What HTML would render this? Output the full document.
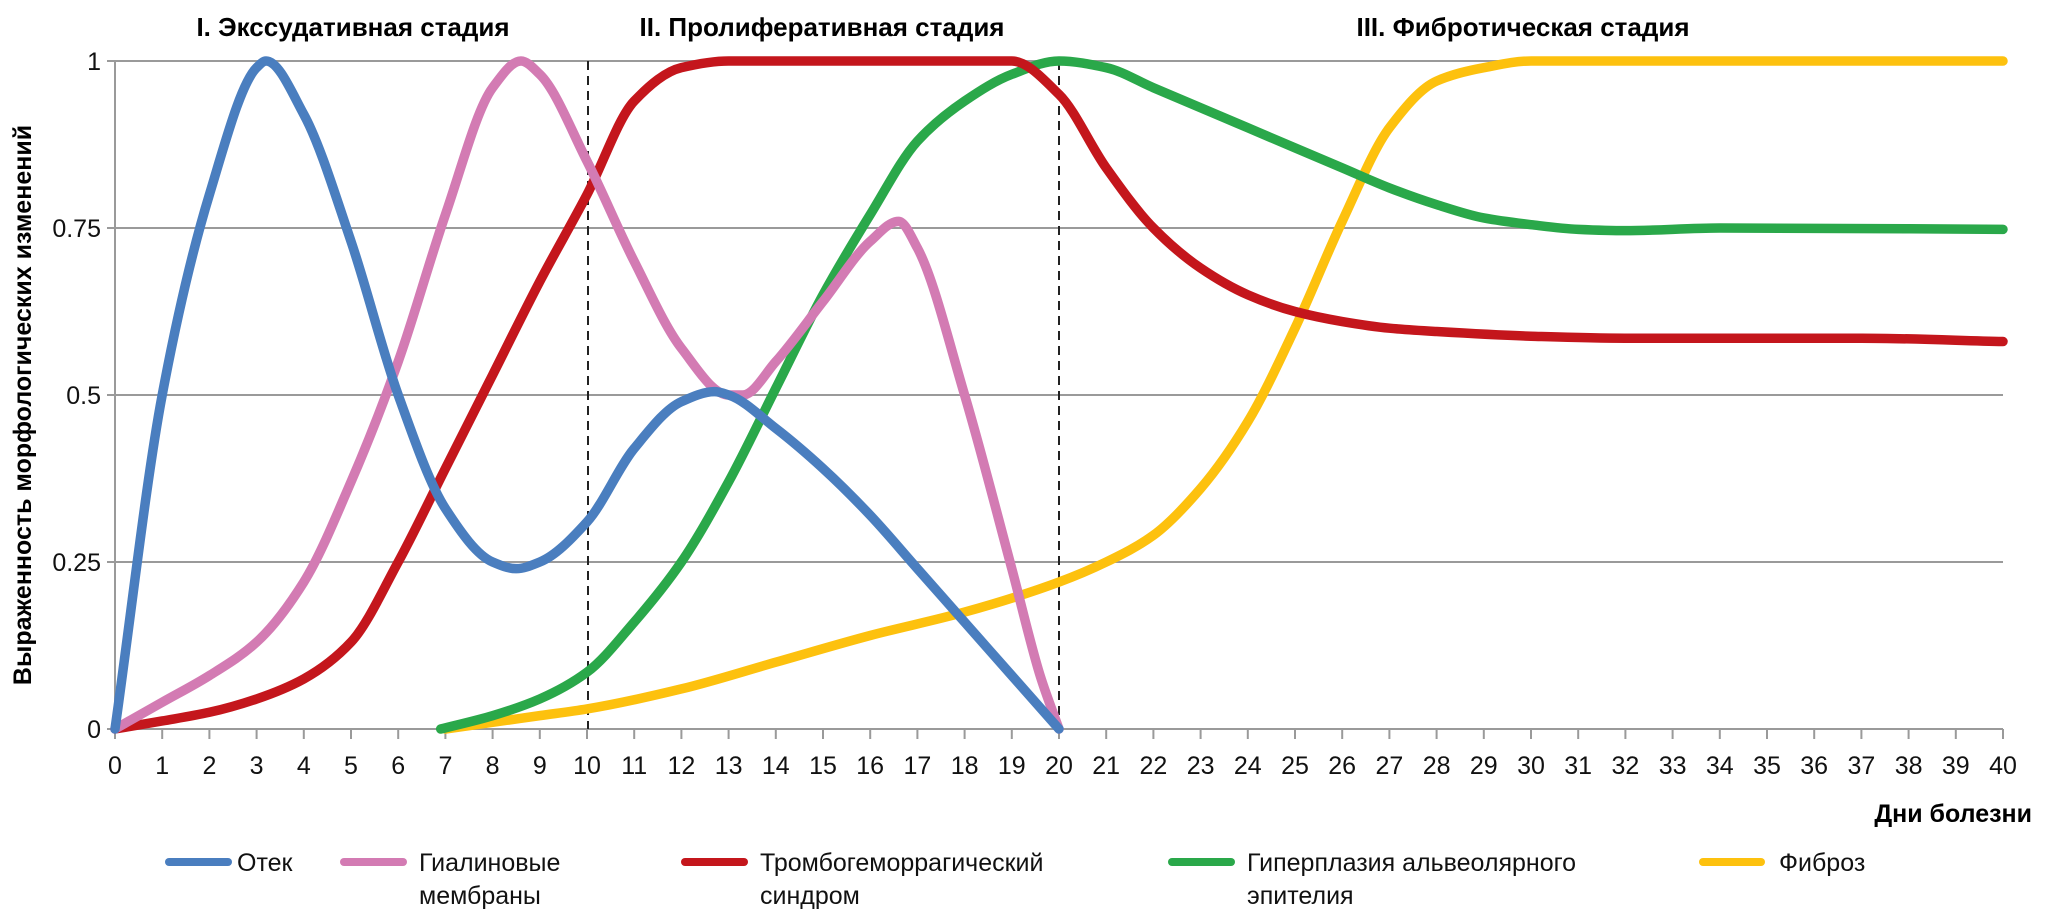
<!DOCTYPE html>
<html><head><meta charset="utf-8"><style>
html,body{margin:0;padding:0;background:#fff}
svg{display:block}
text{font-family:"Liberation Sans",sans-serif}
</style></head><body>
<svg id="s" width="2054" height="920" viewBox="0 0 2054 920" xmlns="http://www.w3.org/2000/svg">
<g id="grid" stroke="#9a9a9a" stroke-width="2"></g>
<g id="lab" font-size="25" fill="#111"></g>
<line x1="588" y1="61" x2="588" y2="729" stroke="#222" stroke-width="2" stroke-dasharray="9,6"/>
<line x1="1059" y1="61" x2="1059" y2="729" stroke="#222" stroke-width="2" stroke-dasharray="9,6"/>
<g id="curves" fill="none" stroke-width="9.5" stroke-linecap="round" stroke-linejoin="round"></g>
<text x="353" y="36" font-size="26" font-weight="bold" text-anchor="middle">I. Экссудативная стадия</text>
<text x="822" y="36" font-size="26" font-weight="bold" text-anchor="middle">II. Пролиферативная стадия</text>
<text x="1523" y="36" font-size="26" font-weight="bold" text-anchor="middle">III. Фибротическая стадия</text>
<text transform="translate(31,405) rotate(-90)" font-size="25" font-weight="bold" text-anchor="middle">Выраженность морфологических изменений</text>
<text x="2032" y="822" font-size="25" font-weight="bold" text-anchor="end">Дни болезни</text>
<g stroke-width="8" stroke-linecap="round">
<line x1="169" y1="862" x2="228" y2="862" stroke="#4a7ebf"/>
<line x1="344" y1="862" x2="403" y2="862" stroke="#d37bb3"/>
<line x1="685" y1="862" x2="744" y2="862" stroke="#c4161c"/>
<line x1="1172" y1="862" x2="1231" y2="862" stroke="#2aa84a"/>
<line x1="1703" y1="862" x2="1761" y2="862" stroke="#fdc10e"/>
</g>
<g font-size="25" fill="#111">
<text x="237" y="871">Отек</text>
<text x="419" y="871">Гиалиновые</text><text x="419" y="904">мембраны</text>
<text x="760" y="871">Тромбогеморрагический</text><text x="760" y="904">синдром</text>
<text x="1247" y="871">Гиперплазия альвеолярного</text><text x="1247" y="904">эпителия</text>
<text x="1779" y="871">Фиброз</text>
</g>
</svg>
<script>
var NS="http://www.w3.org/2000/svg";
function px(x){return 115+47.2*x} function py(v){return 729-668*v}
function el(p,t,a,txt){var e=document.createElementNS(NS,t);for(var k in a)e.setAttribute(k,a[k]);if(txt!=null)e.textContent=txt;p.appendChild(e);return e}
var g=document.getElementById('grid'),L=document.getElementById('lab');
[0,0.25,0.5,0.75,1].forEach(function(v){el(g,'line',{x1:107,x2:2003,y1:py(v),y2:py(v)});el(L,'text',{x:101,y:py(v)+9,'text-anchor':'end'},String(v))});
el(g,'line',{x1:115,x2:115,y1:61,y2:729});
for(var i=0;i<=40;i++){el(g,'line',{x1:px(i),x2:px(i),y1:729,y2:739});el(L,'text',{x:px(i),y:774,'text-anchor':'middle'},String(i))}
var D={
"#4a7ebf":[[0,0],[1,0.5],[2,0.8],[3,0.99],[3.2,1],[4,0.92],[5,0.73],[6,0.5],[7,0.33],[8,0.25],[8.5,0.24],[9,0.25],[10,0.31],[11,0.42],[12,0.49],[12.7,0.505],[13,0.5],[14,0.45],[15,0.39],[16,0.32],[17,0.24],[18,0.16],[19,0.08],[20,0]],
"#d37bb3":[[0,0],[1,0.04],[2,0.08],[3,0.13],[4,0.22],[5,0.37],[6,0.55],[7,0.77],[8,0.96],[8.6,1],[9,0.98],[10,0.85],[11,0.7],[12,0.57],[13,0.5],[13.3,0.5],[14,0.55],[15,0.64],[16,0.73],[16.6,0.76],[17,0.72],[18,0.5],[19,0.24],[19.6,0.08],[20,0]],
"#c4161c":[[0,0],[1,0.012],[2,0.025],[3,0.045],[4,0.075],[5,0.13],[6,0.25],[7,0.39],[8,0.53],[9,0.67],[10,0.8],[11,0.94],[12,0.99],[13,1],[19,1],[20,0.95],[21,0.84],[22,0.75],[23,0.69],[24,0.65],[25,0.625],[26,0.61],[27,0.6],[28,0.595],[30,0.588],[32,0.585],[37,0.585],[40,0.58]],
"#2aa84a":[[6.9,0],[8,0.02],[9,0.045],[10,0.085],[11,0.16],[12,0.25],[13,0.37],[14,0.51],[15,0.65],[16,0.77],[17,0.88],[18,0.94],[19,0.98],[20,1],[21,0.99],[22,0.96],[23,0.93],[24,0.9],[25,0.87],[26,0.84],[27,0.81],[28,0.785],[29,0.765],[30,0.755],[31,0.748],[32,0.746],[34,0.75],[40,0.748]],
"#fdc10e":[[7,0],[8,0.01],[9,0.02],[10,0.03],[12,0.06],[14,0.1],[16,0.14],[18,0.175],[20,0.22],[21,0.25],[22,0.29],[23,0.36],[24,0.46],[25,0.6],[26,0.76],[27,0.9],[28,0.97],[29,0.99],[30,1],[40,1]]};
var C=document.getElementById('curves');
["#fdc10e","#2aa84a","#c4161c","#d37bb3","#4a7ebf"].forEach(function(c){
var P=D[c].map(function(p){return [px(p[0]),py(p[1])]});var n=P.length;
var h=[],dl=[];for(var i=0;i<n-1;i++){h[i]=P[i+1][0]-P[i][0];dl[i]=(P[i+1][1]-P[i][1])/h[i];}
var m=[];m[0]=dl[0];m[n-1]=dl[n-2];
for(var i=1;i<n-1;i++){if(dl[i-1]*dl[i]<=0)m[i]=0;else{var w1=2*h[i]+h[i-1],w2=h[i]+2*h[i-1];m[i]=(w1+w2)/(w1/dl[i-1]+w2/dl[i]);}}
var d="M"+P[0][0]+","+P[0][1];
for(var i=0;i<n-1;i++){var hh=h[i]/3;
d+=" C"+(P[i][0]+hh)+","+(P[i][1]+m[i]*hh)+" "+(P[i+1][0]-hh)+","+(P[i+1][1]-m[i+1]*hh)+" "+P[i+1][0]+","+P[i+1][1];}
el(C,'path',{d:d,stroke:c});});
</script>
</body></html>
